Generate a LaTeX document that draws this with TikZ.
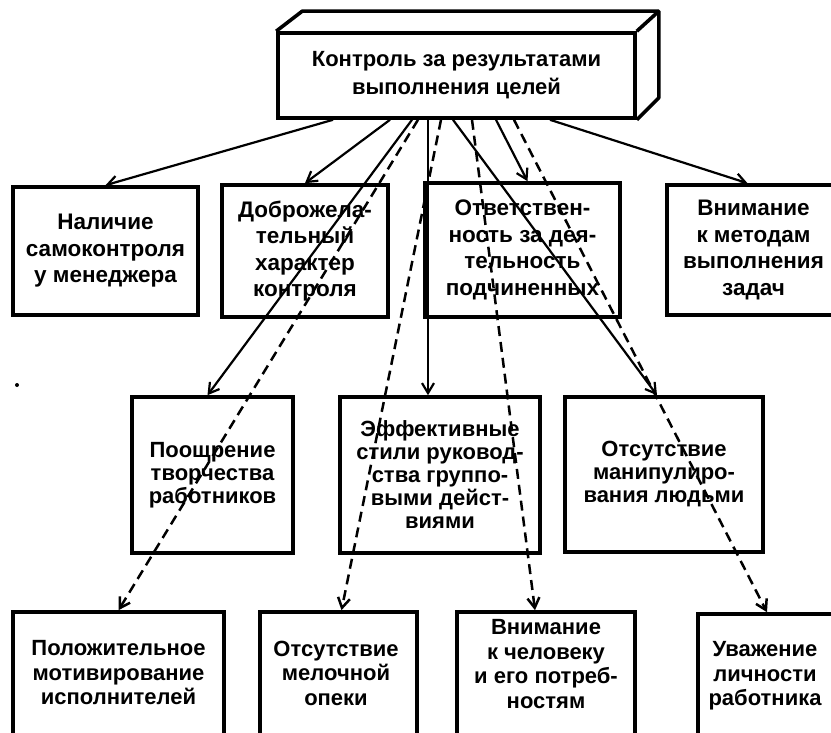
\documentclass[tikz,border=0pt]{standalone}
\usepackage{fontspec}
\setmainfont{Liberation Sans}
\usetikzlibrary{arrows.meta}

\begin{document}
\begin{tikzpicture}[x=1pt, y=-1pt,
  box/.style={draw, line width=3.6pt, rectangle, inner sep=0pt, align=center},
  topline/.style={font=\fontsize{22}{28}\bfseries\selectfont},
  rowone/.style={font=\fontsize{22.5}{26.5}\bfseries\selectfont},
  rowtwo/.style={font=\fontsize{22}{23}\bfseries\selectfont},
  rowthree/.style={font=\fontsize{22}{24.5}\bfseries\selectfont},
  txt/.style={inner sep=0pt, align=center},
  link/.style={line width=2.2pt, -{Straight Barb[length=10pt, width=12pt]}},
  dlink/.style={link, line width=2.5pt, dash pattern=on 10pt off 6pt}]
  \useasboundingbox (0,0) rectangle (831,733);
  \clip (0,0) rectangle (831,733);

  % top block, drawn as a box in perspective
  \node[box, topline, minimum width=357pt, minimum height=85pt] (top) at (456.5,75.5)
    {Контроль за результатами\\выполнения целей};
  \draw[line width=3.6pt, line join=round] (top.north west) -- ++(26,-20) -| ([shift={(22,-22)}]top.south east) -- (top.south east);
  \draw[line width=3.6pt] (top.north east) -- ++(22,-20);

  % first row
  \node[box, rowone, minimum width=185pt, minimum height=128pt] (a) at (105.5,251)
    {Наличие\\самоконтроля\\у менеджера};
  \node[box, rowone, minimum width=166pt, minimum height=132pt] (b) at (305,251)
    {Доброжела-\\тельный\\характер\\контроля};
  \node[box, rowone, minimum width=195pt, minimum height=134pt] (c) at (522.5,250)
    {Ответствен-\\ность за дея-\\тельность\\подчиненных};
  \node[box, rowone, minimum width=173pt, minimum height=130pt] (d) at (753.5,250)
    {Внимание\\к методам\\выполнения\\задач};

  % second row
  \node[box, rowtwo, minimum width=161pt, minimum height=156pt] (e) at (212.5,475)
    {Поощрение\\творчества\\работников};
  \node[box, rowtwo, minimum width=200pt, minimum height=156pt] (f) at (440,475)
    {Эффективные\\стили руковод-\\ства группо-\\выми дейст-\\виями};
  \node[box, rowtwo, minimum width=198pt, minimum height=155pt] (g) at (664,474.5)
    {Отсутствие\\манипулиро-\\вания людьми};

  % third row, cut by the lower edge
  \node[box, minimum width=211pt, minimum height=178pt] (h) at (118.5,701) {};
  \node[box, minimum width=157pt, minimum height=178pt] (i) at (338.5,701) {};
  \node[box, minimum width=178pt, minimum height=178pt] (j) at (546,701) {};
  \node[box, minimum width=142pt, minimum height=174pt] (k) at (769,701) {};
  \node[txt, rowthree] (ht) at (118.5,673) {Положительное\\мотивирование\\исполнителей};
  \node[txt, rowthree] (it) at (336,673) {Отсутствие\\мелочной\\опеки};
  \node[txt, rowthree] (jt) at (546,664) {Внимание\\к человеку\\и его потреб-\\ностям};
  \node[txt, rowthree] (kt) at (765,676) {Уважение\\личности\\работника};

  % solid links
  \draw[link] ([xshift=-123.5]top.south) -- (a.north);
  \draw[link] ([xshift=-66.5]top.south) -- (b.north);
  \draw[link] ([xshift=-44.5]top.south) -- ([xshift=-5]e.north);
  \draw[link] ([xshift=-28.5]top.south) -- ([xshift=-28.5]top.south |- f.north);
  \draw[link] ([xshift=-3.5]top.south) -- ([xshift=-7]g.north);
  \draw[link] ([xshift=39.5]top.south) -- ([xshift=5]c.north);
  \draw[link] ([xshift=93.5]top.south) -- ([xshift=-6]d.north);

  % dashed links
  \draw[dlink] ([xshift=-38.5]top.south) -- (h.north);
  \draw[dlink] ([xshift=-15.5]top.south) -- ([xshift=3]i.north);
  \draw[dlink] ([xshift=15.5]top.south) -- ([xshift=-11]j.north);
  \draw[dlink] ([xshift=57.5]top.south) -- ([xshift=-2]k.north);

  \fill (17,385) circle (2);
\end{tikzpicture}
\end{document}
